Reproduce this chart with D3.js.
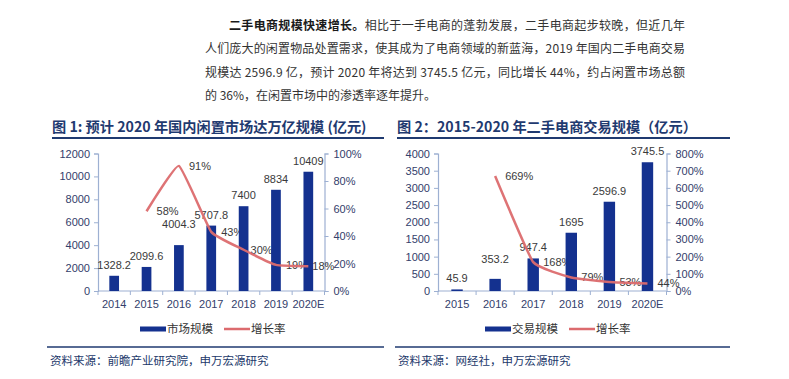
<!DOCTYPE html>
<html><head><meta charset="utf-8">
<script src="https://cdn.jsdelivr.net/npm/d3@7"></script>
<style>
html,body{margin:0;padding:0;background:#fff;}
svg{display:block;}
</style></head>
<body>
<svg id="c" width="789" height="379"></svg>
<script>
// ---------- data ----------
const paraLines = [
  {bold:"二手电商规模快速增长。", text:"相比于一手电商的蓬勃发展，二手电商起步较晚，但近几年"},
  {bold:"", text:"人们庞大的闲置物品处置需求，使其成为了电商领域的新蓝海，2019 年国内二手电商交易"},
  {bold:"", text:"规模达 2596.9 亿，预计 2020 年将达到 3745.5 亿元，同比增长 44%，约占闲置市场总额"},
  {bold:"", text:"的 36%，在闲置市场中的渗透率逐年提升。"}
];
const title1 = "图 1: 预计 2020 年国内闲置市场达万亿规模 (亿元)";
const title2 = "图 2：2015-2020 年二手电商交易规模（亿元）";
const source1 = "资料来源：前瞻产业研究院，申万宏源研究";
const source2 = "资料来源：网经社，申万宏源研究";

const years1 = ["2014","2015","2016","2017","2018","2019","2020E"];
const market1 = [1328.2, 2099.6, 4004.3, 5707.8, 7400, 8834, 10409];
const growth1 = [null, 58, 91, 43, 30, 19, 18];
const leftTicks1 = [0,2000,4000,6000,8000,10000,12000];
const rightTicks1 = [0,20,40,60,80,100];
const legend1 = ["市场规模","增长率"];

const years2 = ["2015","2016","2017","2018","2019","2020E"];
const trade2 = [45.9, 353.2, 947.4, 1695, 2596.9, 3745.5];
const growth2 = [null, 669, 168, 79, 53, 44];
const leftTicks2 = [0,500,1000,1500,2000,2500,3000,3500,4000];
const rightTicks2 = [0,100,200,300,400,500,600,700,800];
const legend2 = ["交易规模","增长率"];

// ---------- style ----------
const BAR = "#14318f", LINE = "#dc6b6e", AXIS = "#9db0d2", TICKTXT = "#33406b",
      LBL = "#3a3a3a", NAVY = "#1f3a70";
const NUMFONT = "'Liberation Sans', Arial, sans-serif";
const CJK = "'Noto Sans CJK SC', 'Noto Sans', sans-serif";

const svg = d3.select("#c");

// paragraph
const paraX = 205, paraRight = 685, paraY0 = 29.5, paraDy = 23.6;
paraLines.forEach((ln, i) => {
  const t = svg.append("text")
    .attr("x", i === 0 ? paraX + 24 : paraX)
    .attr("y", paraY0 + i * paraDy)
    .attr("font-family", CJK).attr("font-size", 12).attr("fill", "#333");
  if (i < 3) {
    t.attr("textLength", paraRight - (i === 0 ? paraX + 24 : paraX)).attr("lengthAdjust", "spacing");
  }
  if (ln.bold) t.append("tspan").attr("font-weight", "bold").attr("fill", "#1a1a1a").text(ln.bold);
  t.append("tspan").text(ln.text);
});

function drawChart(cfg) {
  const g = svg.append("g");
  // title
  g.append("text").attr("x", cfg.titleX).attr("y", 132)
    .attr("font-family", CJK).attr("font-size", 14.2).attr("font-weight", "bold")
    .attr("fill", NAVY).text(cfg.title);
  g.append("line").attr("x1", cfg.titleX).attr("x2", cfg.ruleX2)
    .attr("y1", 138).attr("y2", 138).attr("stroke", NAVY).attr("stroke-width", 2);

  const x = d3.scaleBand().domain(cfg.cats).range([cfg.x0, cfg.x1])
    .paddingInner(0.7).paddingOuter(0.35);
  const yL = d3.scaleLinear().domain([0, d3.max(cfg.leftTicks)]).range([291, 153.5]);
  const yR = d3.scaleLinear().domain([0, d3.max(cfg.rightTicks)]).range([291, 153.5]);

  // left axis
  const aL = g.append("g").attr("transform", `translate(${cfg.x0},0)`)
    .call(d3.axisLeft(yL).tickValues(cfg.leftTicks).tickSize(4).tickPadding(4).tickFormat(d3.format("d")));
  // right axis
  const aR = g.append("g").attr("transform", `translate(${cfg.x1},0)`)
    .call(d3.axisRight(yR).tickValues(cfg.rightTicks).tickSize(4).tickPadding(5).tickFormat(d => d + "%"));
  // bottom axis
  const aB = g.append("g").attr("transform", "translate(0,291)")
    .call(d3.axisBottom(x).tickSize(0).tickPadding(9));
  [aL, aR, aB].forEach(a => {
    a.select(".domain").attr("stroke", AXIS).attr("stroke-width", 1.2);
    a.selectAll(".tick line").attr("stroke", AXIS);
    a.selectAll("text").attr("fill", TICKTXT).attr("font-family", NUMFONT).attr("font-size", 11);
  });
  aB.select(".domain").attr("d", `M${cfg.x0},0H${cfg.x1}`);
  // boundary ticks on x axis
  const step = x.step();
  g.selectAll(".bt").data(d3.range(cfg.cats.length + 1)).join("line")
    .attr("x1", i => cfg.x0 + i * step).attr("x2", i => cfg.x0 + i * step)
    .attr("y1", 291).attr("y2", 295).attr("stroke", AXIS);

  const lineData = cfg.cats.map((c, i) => ({c, v: cfg.growth[i]})).filter(d => d.v != null);

  // line labels (under bars)
  g.selectAll(".ll").data(lineData).join("text")
    .attr("x", d => x(d.c) + x.bandwidth() / 2 + 10 + (cfg.nudge[d.c] || 0))
    .attr("y", d => yR(d.v)).attr("dy", "0.35em")
    .attr("font-family", NUMFONT).attr("font-size", 11).attr("fill", LBL)
    .text(d => d.v + "%");

  // bars
  g.selectAll(".bar").data(cfg.values).join("rect")
    .attr("x", (d, i) => x(cfg.cats[i])).attr("width", x.bandwidth())
    .attr("y", d => yL(d)).attr("height", d => 291 - yL(d))
    .attr("fill", BAR);
  // bar labels
  g.selectAll(".bl").data(cfg.values).join("text")
    .attr("x", (d, i) => x(cfg.cats[i]) + x.bandwidth() / 2)
    .attr("y", (d, i) => yL(d) - 7 - (cfg.lift[cfg.cats[i]] || 0))
    .attr("text-anchor", "middle")
    .attr("font-family", NUMFONT).attr("font-size", 11).attr("fill", LBL)
    .text(d => d);

  // line
  g.append("path").datum(lineData)
    .attr("d", d3.line().x(d => x(d.c) + x.bandwidth() / 2).y(d => yR(d.v)).curve(d3.curveCardinal.tension(0.65)))
    .attr("fill", "none").attr("stroke", LINE).attr("stroke-width", 2.5).attr("stroke-opacity", 0.95);

  // legend
  const lg = g.append("g");
  lg.append("rect").attr("x", cfg.legX).attr("y", 326.5).attr("width", 26).attr("height", 5).attr("fill", BAR);
  lg.append("text").attr("x", cfg.legX + 27).attr("y", 333).attr("font-family", CJK)
    .attr("font-size", 11.5).attr("fill", "#333").text(cfg.legend[0]);
  const lx = cfg.legX + 84;
  lg.append("line").attr("x1", lx).attr("x2", lx + 26).attr("y1", 329).attr("y2", 329)
    .attr("stroke", LINE).attr("stroke-width", 2.5);
  lg.append("text").attr("x", lx + 27).attr("y", 333).attr("font-family", CJK)
    .attr("font-size", 11.5).attr("fill", "#333").text(cfg.legend[1]);

  // source rule + text
  g.append("line").attr("x1", cfg.srcX).attr("x2", cfg.ruleX2).attr("y1", 347).attr("y2", 347)
    .attr("stroke", NAVY).attr("stroke-width", 1.5);
  g.append("text").attr("x", cfg.srcX + 3).attr("y", 365).attr("font-family", CJK)
    .attr("font-size", 11.5).attr("fill", "#22386a").text(cfg.source);
}

drawChart({title: title1, titleX: 52, ruleX2: 384, srcX: 47,
  cats: years1, values: market1, growth: growth1, leftTicks: leftTicks1, rightTicks: rightTicks1,
  x0: 98, x1: 324.5, legend: legend1, legX: 140, source: source1,
  lift: {"2016": 10}, nudge: {"2018": -3, "2020E": -6}});
drawChart({title: title2, titleX: 397, ruleX2: 730, srcX: 395,
  cats: years2, values: trade2, growth: growth2, leftTicks: leftTicks2, rightTicks: rightTicks2,
  x0: 438, x1: 666.5, legend: legend2, legX: 485, source: source2,
  lift: {"2016": 9}, nudge: {}});
</script>
</body></html>
